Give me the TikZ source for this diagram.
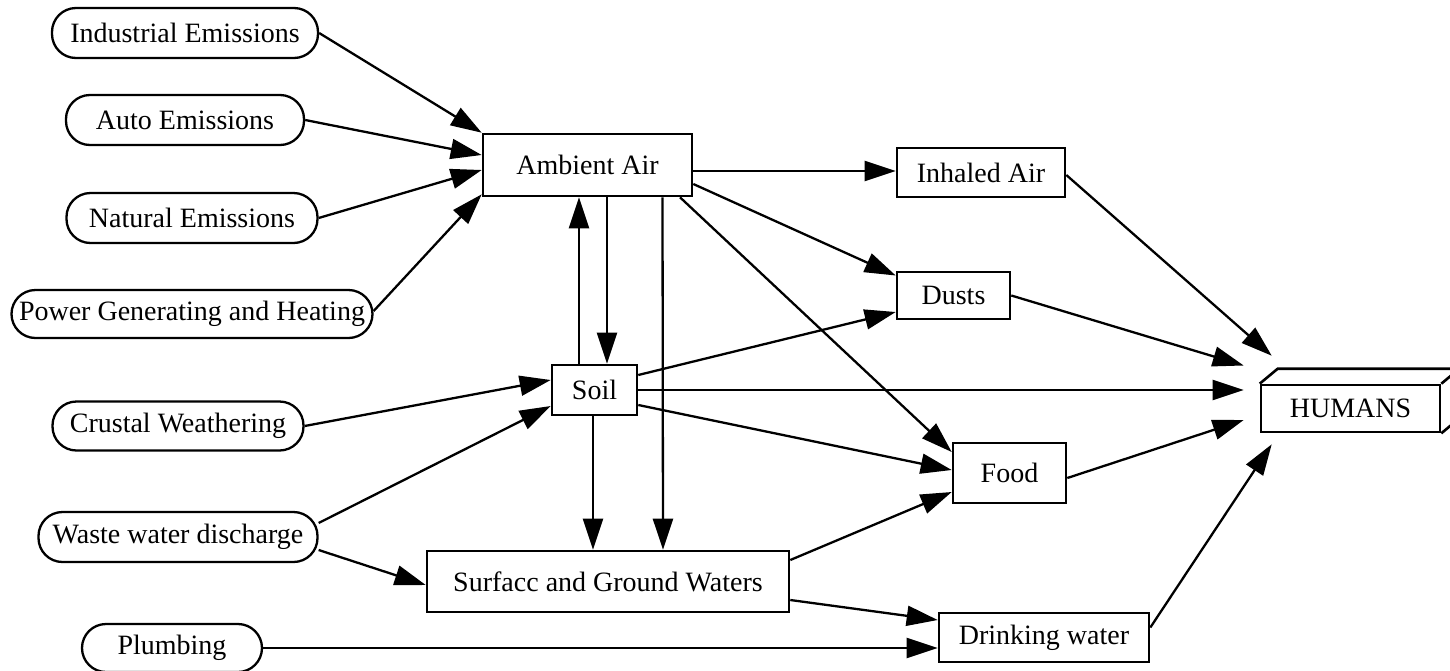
\documentclass[tikz,border=0pt]{standalone}
\usepackage{fontspec}
\setmainfont{Liberation Serif}
\usetikzlibrary{arrows.meta,calc}
\begin{document}
\begin{tikzpicture}[x=1pt,y=-1pt,
  src/.style={draw, line width=2.3pt, rectangle, rounded corners=24pt, inner sep=0pt, minimum height=50pt, font=\fontsize{28}{30}\selectfont},
  box/.style={draw, line width=2.6pt, rectangle, inner sep=0pt, font=\fontsize{28}{30}\selectfont},
  arr/.style={line width=2.3pt, -{Triangle[length=31pt,width=20pt]}},
  face/.style={line width=2.6pt, line join=miter}
]
\useasboundingbox (0,0) rectangle (1450,670);
\clip (0,0) rectangle (1450,670);
\fill[white] (0,0) rectangle (1450,670);

% sources
\node[src, minimum width=266pt] (ind) at (185,33) {Industrial Emissions};
\node[src, minimum width=238pt] (auto) at (185,120) {Auto Emissions};
\node[src, minimum width=251pt] (nat) at (192,218) {Natural Emissions};
\node[src, minimum width=361pt, minimum height=48pt] (pow) at (192,314) {Power Generating and Heating};
\node[src, minimum width=251pt, minimum height=49pt] (crust) at (178,426) {Crustal Weathering};
\node[src, minimum width=279pt] (waste) at (178,537) {Waste water discharge};
\node[src, minimum width=180pt, minimum height=48pt] (plumb) at (172,648) {Plumbing};

% boxes
\node[box, minimum width=209pt, minimum height=62pt] (amb) at (587.5,165) {Ambient Air};
\node[box, minimum width=85pt, minimum height=50pt] (soil) at (594.5,390) {Soil};
\node[box, minimum width=362pt, minimum height=61pt] (surf) at (608,581.5) {Surfacc and Ground Waters};
\node[box, minimum width=168pt, minimum height=49pt] (inh) at (981,172.5) {Inhaled Air};
\node[box, minimum width=113pt, minimum height=47pt] (dust) at (953.5,295.5) {Dusts};
\node[box, minimum width=113pt, minimum height=60pt] (food) at (1009.5,473) {Food};
\node[box, minimum width=210pt, minimum height=49pt] (drink) at (1044,637.5) {Drinking water};
\node[box, minimum width=179pt, minimum height=47pt] (hum) at (1350.5,408.5) {HUMANS};

% 3D faces of HUMANS
\draw[face] (hum.north west) -- ++(18,-15) -- ($(hum.north east)+(18,-15)$) -- (hum.north east);
\draw[face] ($(hum.north east)+(18,-15)$) -- ($(hum.south east)+(18,-15)$) -- (hum.south east);

% sources to ambient air
\draw[arr] (ind.east) -- (amb.north west);
\draw[arr] (auto.east) -- ([yshift=10pt]amb.west);
\draw[arr] (nat.east) -- ([yshift=-5pt]amb.west);
\draw[arr] ([yshift=3pt]pow.east) -- ([yshift=3pt]amb.south west);

% ambient air outputs
\draw[arr] ([yshift=-6pt]amb.east) -- ([yshift=1.5pt]inh.west);
\draw[arr] ([yshift=-19pt]amb.east) -- ([yshift=20pt]dust.west);
\draw[arr] ([xshift=92.5pt]amb.south) -- ([yshift=21pt]food.west);
\draw[arr] ([xshift=19.5pt]amb.south) -- ([xshift=12.5pt]soil.north);
\draw[arr] ([xshift=-15.5pt]soil.north) -- ([xshift=-8.5pt]amb.south);
\draw[arr] ([xshift=75pt]amb.south) -- ([xshift=55pt]surf.north);

% soil outputs
\draw[arr] ([xshift=-1.5pt]soil.south) -- ([xshift=-15pt]surf.north);
\draw[arr] ([yshift=15pt]soil.east) -- ([yshift=-16.5pt]dust.west);
\coordinate (hin) at ([xshift=-16pt]hum.west);
\draw[arr] (soil.east) -- (soil.east -| hin);
\draw[arr] ([yshift=-15pt]soil.east) -- ([yshift=3pt]food.west);

% waters
\draw[arr] ([yshift=21.5pt]surf.east) -- ([yshift=-19pt]food.west);
\draw[arr] ([yshift=-18.5pt]surf.east) -- ([yshift=17.5pt]drink.west);

% lower sources
\draw[arr] (crust.east) -- ([yshift=10pt]soil.west);
\draw[arr] ([yshift=14pt]waste.east) -- ([yshift=-16pt]soil.west);
\draw[arr] ([yshift=-13pt]waste.east) -- ([yshift=-3.5pt]surf.west);
\draw[arr] (plumb.east) -- (plumb.east -| drink.west);

% to humans
\draw[arr] ([yshift=-2.5pt]inh.east) -- ([xshift=12pt,yshift=28pt]hum.north west);
\draw[arr] (dust.east) -- ([yshift=43pt]hin);
\draw[arr] ([yshift=-5pt]food.east) -- ([yshift=-11.5pt]hin);
\draw[arr] ([yshift=10pt]drink.east) -- ([xshift=12pt,yshift=-11pt]hum.south west);
\end{tikzpicture}
\end{document}
